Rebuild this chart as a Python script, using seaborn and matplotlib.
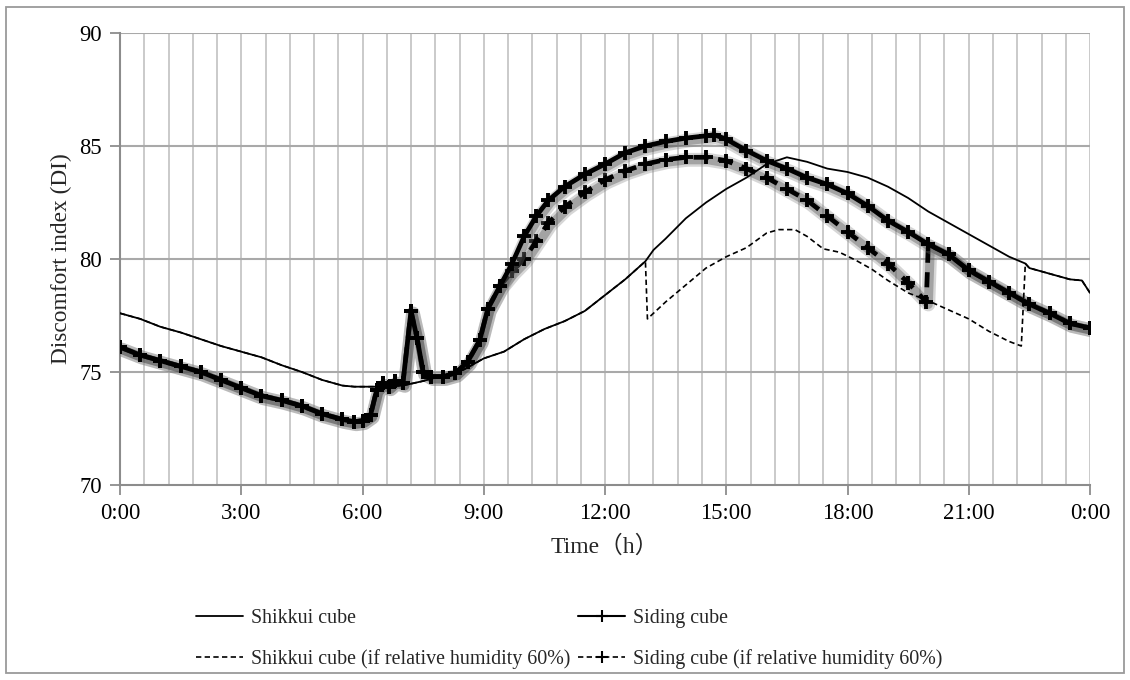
import matplotlib
matplotlib.use("Agg")
import matplotlib.pyplot as plt
import matplotlib.transforms as mtransforms
from matplotlib.lines import Line2D
from matplotlib.patches import Rectangle
import seaborn as sns

# ---------------- data (hours -> discomfort index) ----------------
shikkui_t = [0.0, 0.5, 1.0, 1.5, 2.0, 2.5, 3.0, 3.5, 4.0, 4.5, 5.0, 5.5, 5.8, 6.5,
             7.0, 7.5, 8.0, 8.5, 9.0, 9.5, 10.0, 10.5, 11.0, 11.5, 12.0, 12.5, 13.0,
             13.2, 13.5, 14.0, 14.5, 15.0, 15.5, 16.0, 16.5, 17.0, 17.5, 18.0, 18.5,
             19.0, 19.5, 20.0, 20.5, 21.0, 21.5, 22.0, 22.4, 22.5, 23.0, 23.5, 23.8, 24.0]
shikkui_v = [77.6, 77.35, 77.0, 76.75, 76.45, 76.15, 75.9, 75.65, 75.3, 75.0, 74.65, 74.4,
             74.35, 74.35, 74.4, 74.6, 74.85, 75.1, 75.6, 75.9, 76.45, 76.9, 77.25, 77.7,
             78.4, 79.1, 79.9, 80.4, 80.9, 81.8, 82.5, 83.1, 83.6, 84.2, 84.5, 84.3, 84.0,
             83.85, 83.6, 83.2, 82.7, 82.1, 81.6, 81.1, 80.6, 80.1, 79.8, 79.6, 79.35,
             79.1, 79.05, 78.5]

# Shikkui cube (if RH 60%): departs from Shikkui cube between 13:00 and 22:20
shikkui60_div_t = [13.05, 13.5, 14.0, 14.5, 15.0, 15.5, 16.0, 16.3, 16.7, 17.0, 17.4,
                   17.8, 18.2, 18.6, 19.0, 19.5, 20.0, 20.5, 21.0, 21.5, 22.0, 22.3]
shikkui60_div_v = [77.35, 78.1, 78.85, 79.6, 80.1, 80.5, 81.15, 81.3, 81.3, 81.0, 80.45,
                   80.3, 79.95, 79.55, 79.05, 78.5, 78.15, 77.75, 77.35, 76.8, 76.35, 76.15]

siding_t = [0.0, 0.5, 1.0, 1.5, 2.0, 2.5, 3.0, 3.5, 4.0, 4.5, 5.0, 5.5, 5.8, 6.0, 6.2,
            6.35, 6.5, 6.65, 6.8, 7.0, 7.2, 7.35, 7.5, 7.7, 8.0, 8.3, 8.6, 8.9, 9.1, 9.4,
            9.7, 10.0, 10.3, 10.6, 11.0, 11.5, 12.0, 12.5, 13.0, 13.5, 14.0, 14.5, 14.7,
            15.0, 15.5, 16.0, 16.5, 17.0, 17.5, 18.0, 18.5, 19.0, 19.5, 20.0, 20.5,
            21.0, 21.5, 22.0, 22.5, 23.0, 23.5, 24.0]
siding_v = [76.1, 75.75, 75.5, 75.25, 75.0, 74.65, 74.3, 73.95, 73.75, 73.5, 73.15, 72.9,
            72.8, 72.85, 73.1, 74.2, 74.5, 74.35, 74.6, 74.5, 77.7, 76.5, 75.0, 74.8,
            74.8, 74.95, 75.45, 76.4, 77.8, 78.8, 79.8, 81.0, 81.9, 82.6, 83.2, 83.75,
            84.2, 84.7, 85.0, 85.2, 85.35, 85.45, 85.5, 85.3, 84.8, 84.35, 84.0, 83.6,
            83.3, 82.9, 82.35, 81.7, 81.2, 80.65, 80.2, 79.5, 79.0, 78.5, 78.0, 77.6,
            77.15, 76.95]

# Siding cube (if RH 60%): departs from Siding cube between ~9:30 and 20:00
siding60_div_t = [9.7, 10.0, 10.3, 10.6, 11.0, 11.5, 12.0, 12.5, 13.0, 13.5, 14.0, 14.5,
                  15.0, 15.5, 16.0, 16.5, 17.0, 17.5, 18.0, 18.5, 19.0, 19.5, 19.95]
siding60_div_v = [79.45, 80.0, 80.8, 81.6, 82.3, 82.95, 83.5, 83.9, 84.2, 84.4, 84.5,
                  84.5, 84.35, 84.0, 83.6, 83.1, 82.6, 81.9, 81.2, 80.5, 79.8, 78.95, 78.1]

x_tick_hours = [0, 3, 6, 9, 12, 15, 18, 21, 24]
x_tick_labels = ["0:00", "3:00", "6:00", "9:00", "12:00", "15:00", "18:00", "21:00", "0:00"]
y_ticks = [70, 75, 80, 85, 90]
labels = ["Shikkui cube", "Siding cube",
          "Shikkui cube (if relative humidity 60%)", "Siding cube (if relative humidity 60%)"]

# build full 60% series (coincide with measured series outside divergent window)
shikkui60_t = ([t for t in shikkui_t if t <= 13.0] + shikkui60_div_t
               + [t for t in shikkui_t if t >= 22.4])
shikkui60_v = ([v for t, v in zip(shikkui_t, shikkui_v) if t <= 13.0] + shikkui60_div_v
               + [v for t, v in zip(shikkui_t, shikkui_v) if t >= 22.4])
siding60_t = ([t for t in siding_t if t <= 9.4] + siding60_div_t
              + [t for t in siding_t if t >= 20.0])
siding60_v = ([v for t, v in zip(siding_t, siding_v) if t <= 9.4] + siding60_div_v
              + [v for t, v in zip(siding_t, siding_v) if t >= 20.0])

# ---------------- style ----------------
sns.set_theme(style="white")
plt.rcParams["font.family"] = ["Liberation Serif", "Noto Sans CJK JP", "DejaVu Sans"]

fig = plt.figure(figsize=(11.3, 6.8), dpi=100)
ax = fig.add_axes([120 / 1130, 1 - 485 / 680, 970 / 1130, 452 / 680])

grid_v = "#c6c6c6"
grid_h = "#a9a9a9"
spine_c = "#8c8c8c"

dash = (0, (3.2, 2.0))
shadow_tr = ax.transData + mtransforms.ScaledTranslation(2 / 100, -2.5 / 100, fig.dpi_scale_trans)


def heavy_series(t, v, ls, z):
    # soft shadow underneath
    sns.lineplot(x=t, y=v, ax=ax, estimator=None, sort=False, color="#7a7a7a",
                 lw=10, alpha=0.3, transform=shadow_tr, zorder=z - 0.2,
                 solid_capstyle="round", solid_joinstyle="round")
    sns.lineplot(x=t, y=v, ax=ax, estimator=None, sort=False, color="#444444",
                 lw=6.5, alpha=0.35, transform=shadow_tr, zorder=z - 0.1,
                 solid_capstyle="round", solid_joinstyle="round")
    # core line
    sns.lineplot(x=t, y=v, ax=ax, estimator=None, sort=False, color="black",
                 lw=3.4, linestyle=ls, zorder=z)
    # '+' markers
    sns.scatterplot(x=t, y=v, ax=ax, marker="+", s=110, color="black",
                    linewidth=2.8, zorder=z + 0.1)


heavy_series(siding60_t, siding60_v, dash, 3)
heavy_series(siding_t, siding_v, "-", 4)
sns.lineplot(x=shikkui60_t, y=shikkui60_v, ax=ax, estimator=None, sort=False,
             color="black", lw=1.2, linestyle=dash, zorder=5)
sns.lineplot(x=shikkui_t, y=shikkui_v, ax=ax, estimator=None, sort=False,
             color="black", lw=1.3, zorder=6)

ax.set_xlim(0, 24)
ax.set_ylim(70, 90)
ax.set_xticks(x_tick_hours)
ax.set_xticklabels(x_tick_labels)
ax.set_xticks([i * 0.6 for i in range(41)], minor=True)
ax.set_yticks(y_ticks)
ax.set_yticklabels([str(v) for v in y_ticks])

ax.grid(False)
for xv in [i * 0.6 for i in range(1, 41)]:
    ax.axvline(xv, color=grid_v, lw=1.3, zorder=1)
for yv in y_ticks[1:]:
    ax.axhline(yv, color=grid_h, lw=1.5, zorder=1)

for s in ["top", "right"]:
    ax.spines[s].set_visible(False)
for s in ["left", "bottom"]:
    ax.spines[s].set_color(spine_c)
    ax.spines[s].set_linewidth(1.5)
    ax.spines[s].set_zorder(2)

ax.tick_params(axis="both", which="major", direction="out", length=7, width=1.3,
               color=spine_c, labelsize=16.3, labelcolor="black", pad=6)
ax.tick_params(axis="x", which="minor", length=0)
ax.tick_params(axis="y", which="both", left=True)
ax.tick_params(axis="x", which="major", bottom=True)

ax.set_xlabel("Time（h）", fontsize=17, labelpad=8)
ax.set_ylabel("Discomfort index (DI)", fontsize=16.8, labelpad=5)

# legend (column-major: col1 = Shikkui, col2 = Siding)
h1 = Line2D([], [], color="black", lw=1.3)
h2 = Line2D([], [], color="black", lw=1.5, marker="+", markersize=9, mew=1.5)
h3 = Line2D([], [], color="black", lw=1.2, linestyle=dash)
h4 = Line2D([], [], color="black", lw=1.2, linestyle=dash, marker="+", markersize=9, mew=1.5)
fig.legend([h1, h3, h2, h4], [labels[0], labels[2], labels[1], labels[3]], ncol=2,
           loc="upper left", bbox_to_anchor=(178 / 1130, 1 - 591 / 680), frameon=False,
           fontsize=14.4, handlelength=2.35, handletextpad=0.4, columnspacing=0.4,
           labelspacing=1.05, numpoints=1)

fig.patches.append(Rectangle((6 / 1130, 7 / 680), 1118 / 1130, 666 / 680,
                             transform=fig.transFigure, fill=False,
                             edgecolor="#9a9a9a", lw=1.3))

fig.savefig("out.png", dpi=100)
